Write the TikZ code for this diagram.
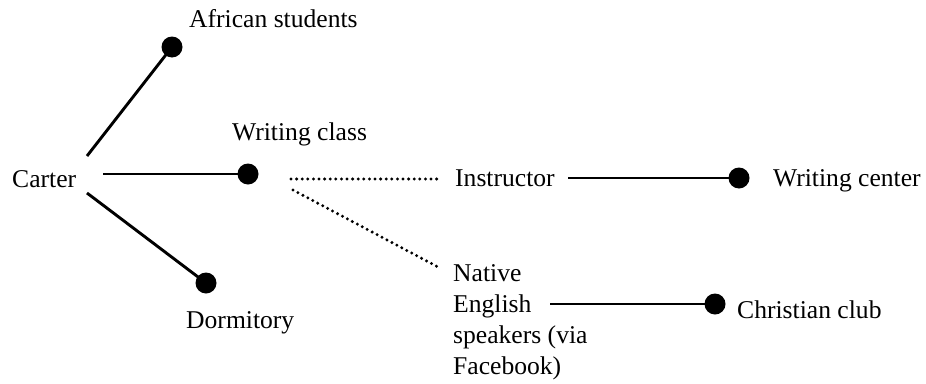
\documentclass[tikz,border=0pt]{standalone}
\usepackage{fontspec}
\setmainfont{Liberation Serif}
\begin{document}
\begin{tikzpicture}[x=1pt,y=-1pt,
  lbl/.style={anchor=base west,inner sep=0pt,font=\fontsize{25.6}{31}\selectfont},
  dotnode/.style={circle,fill=black,minimum size=21pt,inner sep=0pt},
  solidlink/.style={line width=2.9pt},
  dotlink/.style={line width=3.3pt,line cap=round,dash pattern=on 0pt off 5.6pt}]
\useasboundingbox (0,0) rectangle (926,383);
% labels
\node[lbl] (carter) at (12,187) {Carter};
\node[lbl] (african) at (189,27) {African students};
\node[lbl] (wclass) at (232,140) {Writing class};
\node[lbl] (instr) at (455,186) {Instructor};
\node[lbl] (wcenter) at (773,186) {Writing center};
\node[lbl] (dorm) at (186,328) {Dormitory};
\node[lbl,align=left,anchor=north west] (native) at (453,264) {Native\\English\\speakers (via\\Facebook)};
\node[lbl] (christ) at (737,318) {Christian club};
% dots
\node[dotnode] (dA) at (172,47) {};
\node[dotnode] (dW) at (248,174) {};
\node[dotnode] (dC) at (739,178) {};
\node[dotnode] (dD) at (206,283) {};
\node[dotnode] (dN) at (715,304) {};
% connector free ends
\coordinate (c1) at (87,156);
\coordinate (c2) at (103,174);
\coordinate (c3) at (87,193);
\coordinate (i1) at (568,178);
\coordinate (n1) at (550,304);
\coordinate (w1) at (291,179);
\coordinate (w2) at (293,190);
\coordinate (i0) at (438,179);
\coordinate (n0) at (438,267);
% connectors
\draw[solidlink] (c1) -- (dA.center);
\draw[solidlink] (c2) -- (dW.center);
\draw[solidlink] (c3) -- (dD.center);
\draw[solidlink] (i1) -- (dC.center);
\draw[solidlink] (n1) -- (dN.center);
\draw[dotlink] (w1) -- (i0);
\draw[dotlink] (w2) -- (n0);
\end{tikzpicture}
\end{document}
